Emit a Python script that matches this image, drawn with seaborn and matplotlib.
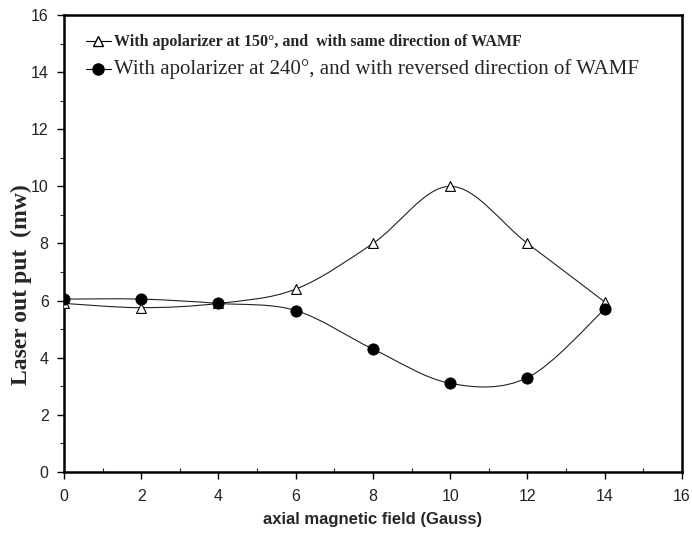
import numpy as np
import pandas as pd
import seaborn as sns
import matplotlib.pyplot as plt
from matplotlib.path import Path
from matplotlib.patches import PathPatch
from matplotlib.lines import Line2D
from matplotlib.ticker import MultipleLocator

# data
field = [0, 2, 4, 6, 8, 10, 12, 14]
out_150 = [5.9, 5.75, 5.9, 6.4, 8.0, 10.0, 8.0, 5.95]
out_240 = [6.05, 6.05, 5.9, 5.65, 4.3, 3.1, 3.3, 5.7]

label_150 = "With apolarizer at 150\u00b0, and  with same direction of WAMF"
label_240 = "With apolarizer at 240\u00b0, and with reversed direction of WAMF"

df = pd.DataFrame({"field": field, "p150": out_150, "p240": out_240})

sns.set_style("ticks")
plt.rcParams["font.family"] = ["Liberation Sans", "DejaVu Sans"]


def smooth_path(x, y):
    # Excel-like smoothed line: Catmull-Rom segments as cubic Beziers
    pts = np.column_stack([x, y]).astype(float)
    ext = np.vstack([pts[0], pts, pts[-1]])
    verts = [tuple(pts[0])]
    codes = [Path.MOVETO]
    for i in range(1, len(ext) - 2):
        p0, p1, p2, p3 = ext[i - 1], ext[i], ext[i + 1], ext[i + 2]
        c1 = p1 + (p2 - p0) / 6
        c2 = p2 - (p3 - p1) / 6
        verts += [tuple(c1), tuple(c2), tuple(p2)]
        codes += [Path.CURVE4] * 3
    return Path(verts, codes)


fig = plt.figure(figsize=(6.92, 5.35), dpi=100)
ax = fig.add_axes([0.0925, 0.118, 0.893, 0.854])

for col in ["p150", "p240"]:
    ax.add_patch(PathPatch(smooth_path(df["field"], df[col]), fill=False,
                           edgecolor="#222222", lw=0.8, zorder=2))

sns.scatterplot(data=df, x="field", y="p150", marker="^", s=50,
                facecolor="white", edgecolor="black", linewidth=0.8, ax=ax, zorder=3)
sns.scatterplot(data=df, x="field", y="p240", marker="o", s=65,
                color="black", edgecolor="black", ax=ax, zorder=4)

ax.set_xlim(0, 16)
ax.set_ylim(0, 16)
ax.xaxis.set_major_locator(MultipleLocator(2))
ax.xaxis.set_minor_locator(MultipleLocator(1))
ax.yaxis.set_major_locator(MultipleLocator(2))
ax.yaxis.set_minor_locator(MultipleLocator(1))
ax.tick_params(which="major", direction="out", length=5, width=1, labelsize=11.5,
               labelcolor="#222222", color="black")
ax.tick_params(axis="x", which="major", pad=7)
ax.tick_params(axis="y", which="major", pad=6)
ax.tick_params(axis="x", which="minor", direction="in", length=3, width=0.8)
ax.tick_params(axis="y", which="minor", direction="out", length=3, width=0.8)
for sp in ax.spines.values():
    sp.set_visible(True)
    sp.set_linewidth(1.8)
    sp.set_color("black")

ax.set_xlabel("axial magnetic field (Gauss)", fontsize=12, fontweight="bold", labelpad=6)
ax.set_ylabel("Laser out put  (mw)", fontsize=17, family="Liberation Serif", fontweight="bold")
ax.yaxis.set_label_coords(-0.052, 0.41)

handles = [
    Line2D([], [], color="black", lw=0.8, marker="^", markersize=6.5,
           markerfacecolor="white", markeredgecolor="black"),
    Line2D([], [], color="black", lw=0.8, marker="o", markersize=8,
           markerfacecolor="black"),
]
leg = ax.legend(handles, [label_150, label_240], loc="upper left",
                bbox_to_anchor=(0.015, 0.985), frameon=False, handlelength=1.8,
                handletextpad=0.2, labelspacing=0.6)
t1, t2 = leg.get_texts()
t1.set_family("Liberation Serif")
t1.set_fontweight("bold")
t1.set_fontsize(11.5)
t2.set_family("Liberation Serif")
t2.set_fontsize(15)

fig.savefig("out.png", dpi=100)
